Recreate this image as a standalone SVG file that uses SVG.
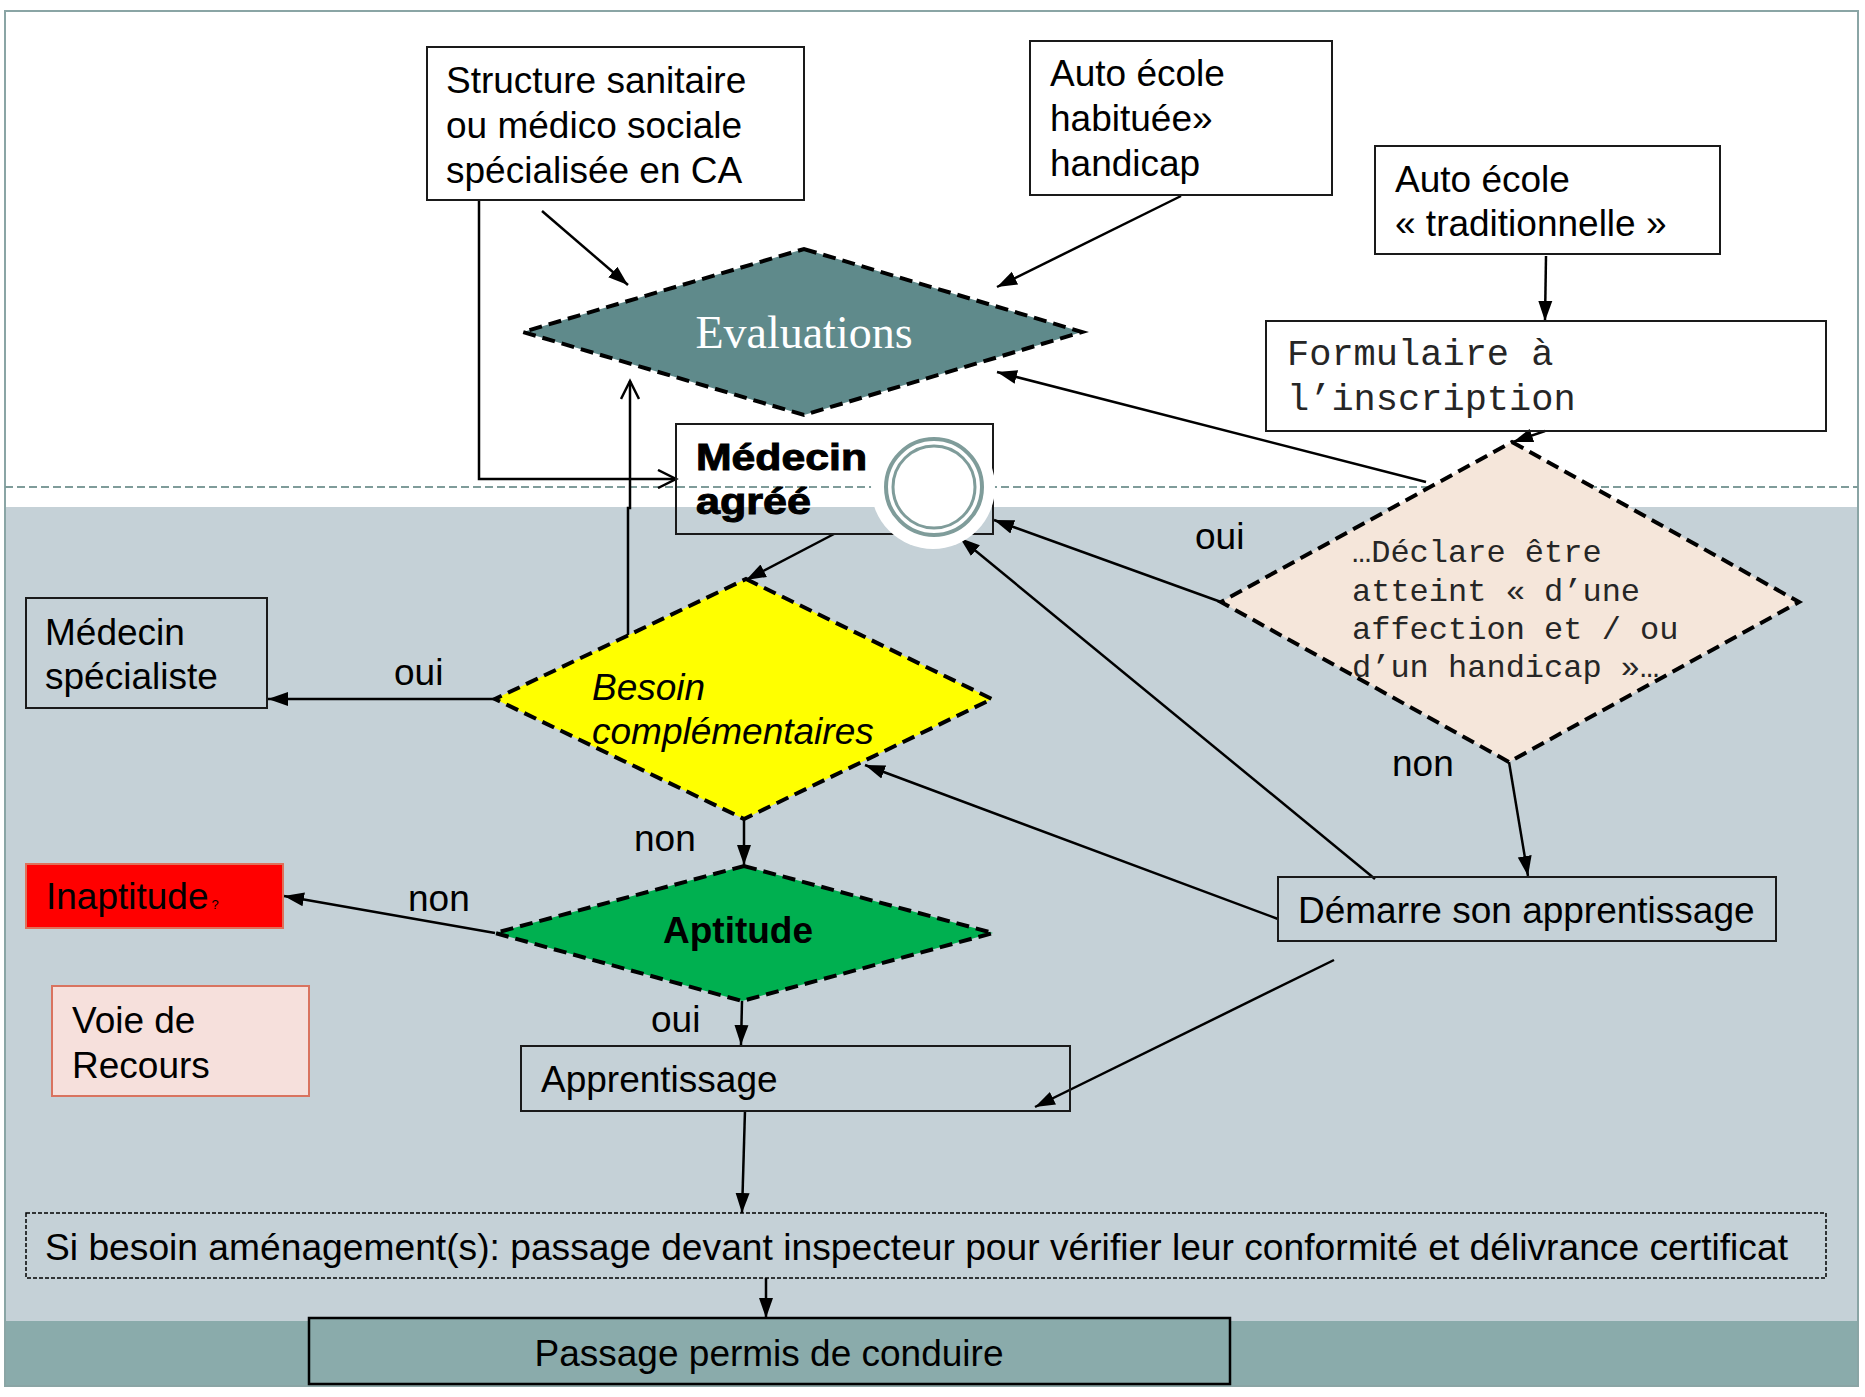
<svg xmlns="http://www.w3.org/2000/svg" width="1865" height="1397" viewBox="0 0 1865 1397">
<style>
.t{font-family:"Liberation Sans",Arial,sans-serif;font-size:37px;fill:#000}
.m{font-family:"Liberation Mono","Courier New",monospace;fill:#262626}
.box{fill:none;stroke:#1a1a1a;stroke-width:2}
.dia{stroke:#000;stroke-width:4;stroke-dasharray:13 7}
.c{fill:none;stroke:#000;stroke-width:2.5}
</style>
<defs>
<marker id="a" markerUnits="userSpaceOnUse" markerWidth="22" markerHeight="16" refX="20" refY="8" orient="auto">
<path d="M0,1 L20,8 L0,15 z" fill="#000"/>
</marker>
<marker id="o" markerUnits="userSpaceOnUse" markerWidth="22" markerHeight="20" refX="19" refY="10" orient="auto">
<path d="M1,1 L19,10 L1,19" fill="none" stroke="#000" stroke-width="2.5"/>
</marker>
</defs>
<!-- backgrounds -->
<rect x="0" y="0" width="1865" height="1397" fill="#fff"/>
<rect x="5" y="507" width="1853" height="814" fill="#c5d1d7"/>
<rect x="5" y="1321" width="1853" height="65" fill="#8aabab"/>
<rect x="5" y="11" width="1853" height="1375" fill="none" stroke="#8aa5a5" stroke-width="2"/>
<line x1="5" y1="487" x2="1858" y2="487" stroke="#7f9c9a" stroke-width="2" stroke-dasharray="8 4"/>

<g id="connectors">
<path class="c" d="M542,211 L628,285" marker-end="url(#a)"/>
<path class="c" d="M1181,196 L997,287" marker-end="url(#a)"/>
<path class="c" d="M1546,256 L1545,321" marker-end="url(#a)"/>
<path class="c" d="M1545,431 L1513,442" marker-end="url(#a)"/>
<path class="c" d="M1426,482 L997,372" marker-end="url(#a)"/>
<path class="c" d="M479,200 L479,479 L676,479" marker-end="url(#o)"/>
<path class="c" d="M628,638 L628,508 L630,508 L630,381" marker-end="url(#o)"/>
<path class="c" d="M834,534 L746,580" marker-end="url(#a)"/>
<path class="c" d="M1221,602 L994,520" marker-end="url(#a)"/>
<path class="c" d="M1375,879 L960,538" marker-end="url(#a)"/>
<path class="c" d="M1278,919 L865,765" marker-end="url(#a)"/>
<path class="c" d="M1334,960 L1035,1107" marker-end="url(#a)"/>
<path class="c" d="M1509,762 L1528,876" marker-end="url(#a)"/>
<path class="c" d="M495,699 L268,699" marker-end="url(#a)"/>
<path class="c" d="M744,819 L744,865" marker-end="url(#a)"/>
<path class="c" d="M495,933 L284,896" marker-end="url(#a)"/>
<path class="c" d="M742,1001 L741,1045" marker-end="url(#a)"/>
<path class="c" d="M745,1110 L742,1213" marker-end="url(#a)"/>
<path class="c" d="M766,1278 L766,1318" marker-end="url(#a)"/>
</g>

<g id="structure">
<rect class="box" x="427" y="47" width="377" height="153"/>
<text class="t" x="446" y="93">Structure sanitaire</text>
<text class="t" x="446" y="138">ou médico sociale</text>
<text class="t" x="446" y="183">spécialisée en CA</text>
</g>
<g id="auto-habituee">
<rect class="box" x="1030" y="41" width="302" height="154"/>
<text class="t" x="1050" y="86">Auto école</text>
<text class="t" x="1050" y="131">habituée»</text>
<text class="t" x="1050" y="176">handicap</text>
</g>
<g id="auto-traditionnelle">
<rect class="box" x="1375" y="146" width="345" height="108"/>
<text class="t" x="1395" y="192">Auto école</text>
<text class="t" x="1395" y="236">« traditionnelle »</text>
</g>
<g id="formulaire">
<rect class="box" x="1266" y="321" width="560" height="110" fill="#fff"/>
<text class="m" x="1287" y="365" font-size="37">Formulaire à</text>
<text class="m" x="1287" y="410" font-size="37">l’inscription</text>
</g>
<g id="evaluations">
<polygon class="dia" points="804,249 1082,332 804,415 523,332" fill="#5f8a8b"/>
<text x="804" y="348" text-anchor="middle" font-family="'Liberation Serif','Times New Roman',serif" font-size="46" fill="#fff">Evaluations</text>
</g>
<g id="declare">
<polygon class="dia" points="1512,442 1799,602 1509,762 1221,602" fill="#f5e6da"/>
<text class="m" x="1352" y="562" font-size="32">…Déclare être</text>
<text class="m" x="1352" y="601" font-size="32">atteint « d’une</text>
<text class="m" x="1352" y="639" font-size="32">affection et / ou</text>
<text class="m" x="1352" y="677" font-size="32">d’un handicap »…</text>
</g>
<g id="medecin-agree">
<rect class="box" x="676" y="424" width="317" height="110"/>
<circle cx="933" cy="487" r="62" fill="#fff"/>
<circle cx="934" cy="487" r="48" fill="none" stroke="#7f9c9a" stroke-width="4"/>
<circle cx="934" cy="487" r="41" fill="none" stroke="#7f9c9a" stroke-width="3"/>
<text class="t" x="696" y="470" font-weight="bold" stroke="#000" stroke-width="1" textLength="171" lengthAdjust="spacingAndGlyphs">Médecin</text>
<text class="t" x="696" y="514" font-weight="bold" stroke="#000" stroke-width="1" textLength="115" lengthAdjust="spacingAndGlyphs">agréé</text>
</g>
<g id="besoin">
<polygon class="dia" points="746,579 992,699 744,819 495,699" fill="#ffff00"/>
<text class="t" x="592" y="700" font-style="italic">Besoin</text>
<text class="t" x="592" y="744" font-style="italic">complémentaires</text>
</g>
<g id="medecin-specialiste">
<rect class="box" x="26" y="598" width="241" height="110"/>
<text class="t" x="45" y="645">Médecin</text>
<text class="t" x="45" y="689">spécialiste</text>
</g>
<g id="aptitude">
<polygon class="dia" points="744,866 993,933 742,1001 495,933" fill="#00b050"/>
<text class="t" x="738" y="943" text-anchor="middle" font-weight="bold">Aptitude</text>
</g>
<g id="inaptitude">
<rect x="26" y="864" width="257" height="64" fill="#ff0000" stroke="#e0705a" stroke-width="2"/>
<text class="t" x="46" y="909">Inaptitude<tspan font-size="13" dx="3">?</tspan></text>
</g>
<g id="voie-recours">
<rect x="52" y="986" width="257" height="110" fill="#f6e0dc" stroke="#d9735f" stroke-width="2"/>
<text class="t" x="72" y="1033">Voie de</text>
<text class="t" x="72" y="1078">Recours</text>
</g>
<g id="demarre">
<rect class="box" x="1278" y="877" width="498" height="64"/>
<text class="t" x="1298" y="923">Démarre son apprentissage</text>
</g>
<g id="apprentissage">
<rect class="box" x="521" y="1046" width="549" height="65"/>
<text class="t" x="541" y="1092">Apprentissage</text>
</g>
<g id="amenagement">
<rect x="26" y="1213" width="1800" height="65" fill="none" stroke="#000" stroke-width="1.5" stroke-dasharray="4 2"/>
<text class="t" x="45" y="1260" textLength="1743" lengthAdjust="spacingAndGlyphs">Si besoin aménagement(s): passage devant inspecteur pour vérifier leur conformité et délivrance certificat</text>
</g>
<g id="passage">
<rect x="309" y="1318" width="921" height="66" fill="#8aabab" stroke="#000" stroke-width="2.5"/>
<text class="t" x="769" y="1366" text-anchor="middle">Passage permis de conduire</text>
</g>
<g id="labels">
<text class="t" x="394" y="685">oui</text>
<text class="t" x="634" y="851">non</text>
<text class="t" x="408" y="911">non</text>
<text class="t" x="651" y="1032">oui</text>
<text class="t" x="1195" y="549">oui</text>
<text class="t" x="1392" y="776">non</text>
</g>
</svg>
